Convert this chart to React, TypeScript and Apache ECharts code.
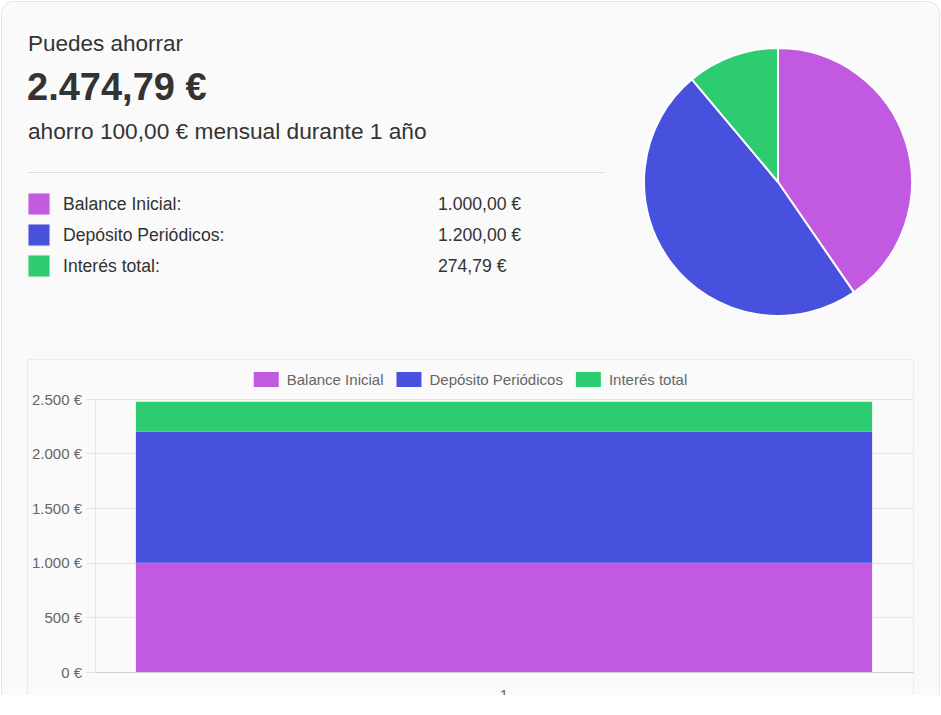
import React, { useEffect, useRef } from "react";
import * as echarts from "echarts";

const seriesNames = ["Balance Inicial", "Depósito Periódicos", "Interés total"];
const seriesValues = [1000, 1200, 274.79];
const seriesColors = ["#c15ae0", "#4751de", "#2ecc71"];
const categories = ["1"];
const valueLabels = ["1.000,00 €", "1.200,00 €", "274,79 €"];
const totalLabel = "2.474,79 €";
const headline = "Puedes ahorrar";
const subtitle = "ahorro 100,00 € mensual durante 1 año";
const yTicks = { min: 0, max: 2500, interval: 500 };

const FONT = "'Liberation Sans', Arial, Helvetica, sans-serif";

function fmtThousands(v: number): string {
  const s = Math.round(v).toString();
  return s.replace(/\B(?=(\d{3})+(?!\d))/g, ".");
}

export default function App() {
  const ref = useRef<HTMLDivElement>(null);
  useEffect(() => {
    if (!ref.current) return;
    const chart = echarts.init(ref.current, undefined, { renderer: "svg" });

    const rowYs = [204, 235, 266];
    const rowGraphics: any[] = [];
    seriesNames.forEach((n, i) => {
      rowGraphics.push({
        type: "rect",
        shape: { x: 28, y: rowYs[i] - 11, width: 22, height: 22 },
        style: { fill: seriesColors[i], stroke: "#f0f0f0", lineWidth: 1 },
        z: 10,
      });
      rowGraphics.push({
        type: "text",
        x: 63,
        y: rowYs[i],
        style: { text: n + ":", font: `17.6px ${FONT}`, fill: "#333", verticalAlign: "middle" },
        z: 10,
      });
      rowGraphics.push({
        type: "text",
        x: 438,
        y: rowYs[i],
        style: { text: valueLabels[i], font: `17.6px ${FONT}`, fill: "#333", verticalAlign: "middle" },
        z: 10,
      });
    });

    const option: any = {
      animation: false,
      textStyle: { fontFamily: FONT },
      graphic: [
        {
          type: "rect",
          shape: { x: 1.5, y: 1.5, width: 938, height: 760, r: 12 },
          style: { fill: "#fafafa", stroke: "#e6e6e6", lineWidth: 1 },
          z: -10,
        },
        {
          type: "rect",
          shape: { x: 27.5, y: 359.5, width: 886, height: 400 },
          style: { fill: "#fafafa", stroke: "#ebebeb", lineWidth: 1 },
          z: -9,
        },
        {
          type: "text",
          x: 28,
          y: 43,
          style: { text: headline, font: `22.5px ${FONT}`, fill: "#333", verticalAlign: "middle" },
          z: 10,
        },
        {
          type: "text",
          x: 27,
          y: 87,
          style: { text: totalLabel, font: `bold 38px ${FONT}`, fill: "#333", verticalAlign: "middle" },
          z: 10,
        },
        {
          type: "text",
          x: 28,
          y: 131,
          style: { text: subtitle, font: `22.7px ${FONT}`, fill: "#333", verticalAlign: "middle" },
          z: 10,
        },
        {
          type: "line",
          shape: { x1: 28, y1: 172.5, x2: 605, y2: 172.5 },
          style: { stroke: "#dddddd", lineWidth: 1 },
          z: 10,
        },
        ...rowGraphics,
      ],
      legend: {
        data: seriesNames,
        top: 367,
        left: "center",
        icon: "rect",
        itemWidth: 25,
        itemHeight: 15,
        itemGap: 13,
        textStyle: { fontSize: 15, color: "#666", fontFamily: FONT, padding: [0, 0, 0, 3] },
      },
      grid: {
        left: 95,
        right: 28,
        top: 399,
        bottom: 23,
        containLabel: false,
        outerBoundsMode: "none",
      },
      xAxis: {
        type: "category",
        data: categories,
        axisLine: { show: true, lineStyle: { color: "#cfcfcf" } },
        axisTick: { show: false },
        axisLabel: { color: "#666", fontSize: 15, margin: 15 },
        splitLine: { show: false },
      },
      yAxis: {
        type: "value",
        min: yTicks.min,
        max: yTicks.max,
        interval: yTicks.interval,
        axisLine: { show: true, lineStyle: { color: "#e5e5e5" } },
        axisTick: { show: true, length: 9, lineStyle: { color: "#e5e5e5" } },
        axisLabel: {
          color: "#666",
          fontSize: 15,
          margin: 13,
          formatter: (v: number) => fmtThousands(v) + " €",
        },
        splitLine: { show: true, lineStyle: { color: "#e5e5e5" } },
      },
      series: [
        ...seriesNames.map((n, i) => ({
          name: n,
          type: "bar",
          stack: "total",
          barWidth: "90%",
          data: [seriesValues[i]],
          itemStyle: { color: seriesColors[i] },
          emphasis: { disabled: true },
        })),
        {
          type: "pie",
          center: [778, 182],
          radius: 134,
          startAngle: 90,
          clockwise: true,
          label: { show: false },
          labelLine: { show: false },
          itemStyle: { borderColor: "#ffffff", borderWidth: 2 },
          emphasis: { disabled: true },
          data: seriesNames.map((n, i) => ({
            name: n,
            value: seriesValues[i],
            itemStyle: { color: seriesColors[i] },
          })),
        },
      ],
    };
    chart.setOption(option);
    return () => chart.dispose();
  }, []);

  return (
    <div
      ref={ref}
      style={{ position: "absolute", left: 0, top: 0, width: 941, height: 695, overflow: "hidden" }}
    />
  );
}
